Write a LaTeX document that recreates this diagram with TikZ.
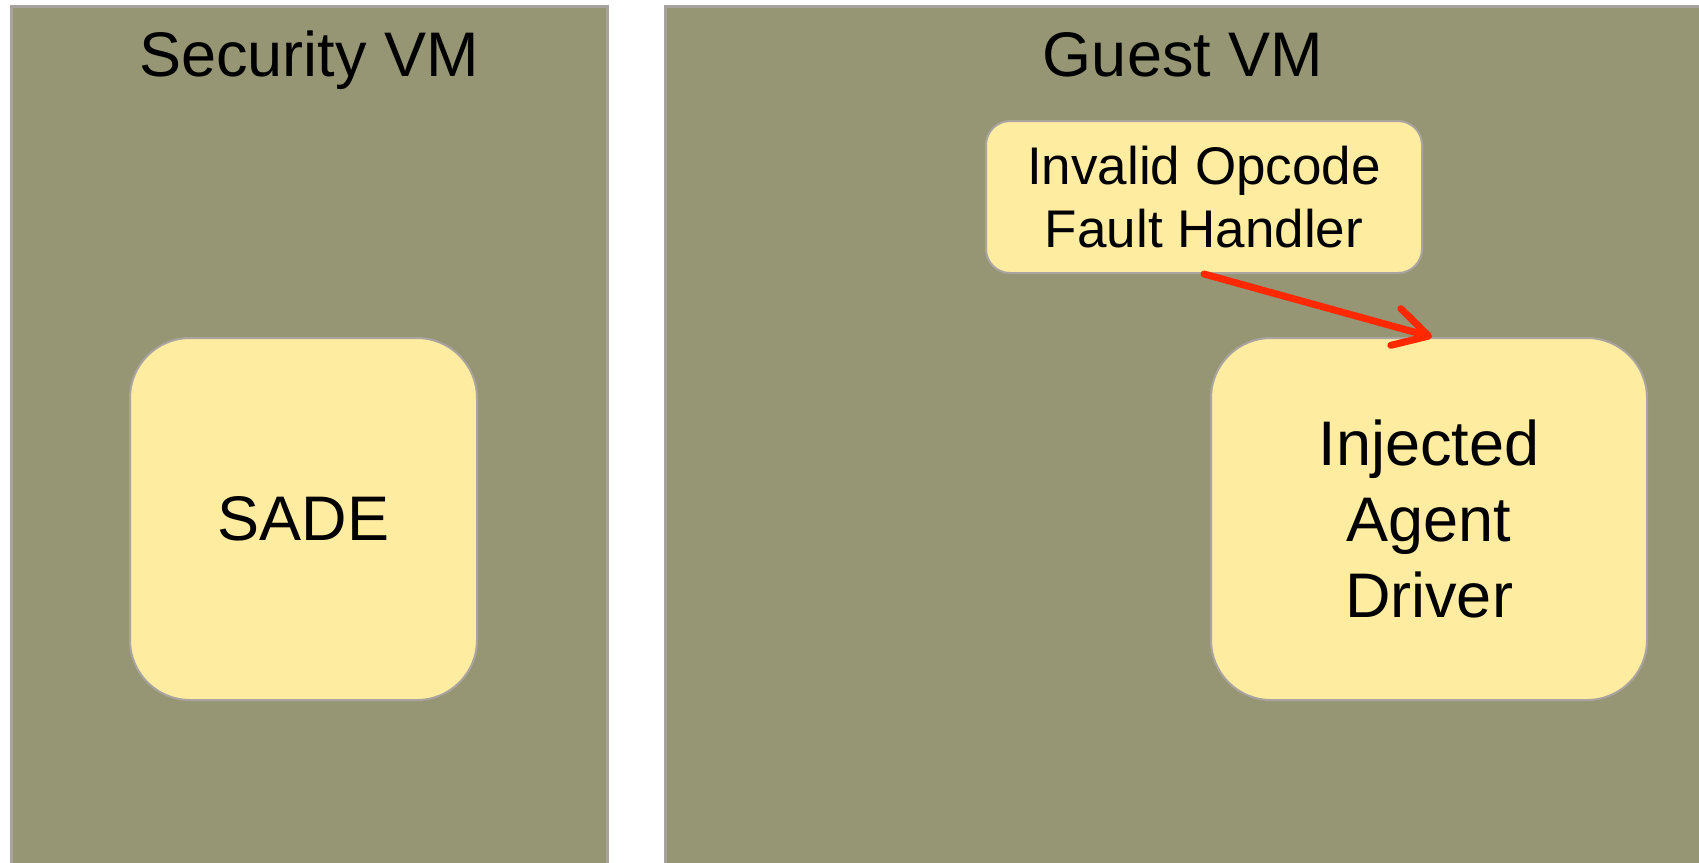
\documentclass[tikz,border=0pt]{standalone}
\usepackage{fontspec}
\setmainfont{Liberation Sans}
\usetikzlibrary{arrows.meta}
\definecolor{panelfill}{RGB}{151,150,116}
\definecolor{panelline}{RGB}{168,162,158}
\definecolor{boxfill}{RGB}{254,236,160}
\definecolor{boxline}{RGB}{170,164,160}
\definecolor{arrowred}{RGB}{255,40,0}
\tikzset{
  panel/.style={fill=panelfill, draw=panelline, line width=3pt},
  paneltitle/.style={font=\fontsize{63}{76}\selectfont, anchor=base, inner sep=0pt},
  bigbox/.style={fill=boxfill, draw=boxline, line width=2pt, rounded corners=60pt,
    minimum width=436pt, minimum height=362pt, font=\fontsize{63}{76}\selectfont,
    align=center, inner sep=0pt},
  smallbox/.style={fill=boxfill, draw=boxline, line width=2pt, rounded corners=24pt,
    minimum width=436pt, minimum height=152pt, font=\fontsize{53}{63}\selectfont,
    align=center, inner sep=0pt},
  redarrow/.style={draw=arrowred, line width=7pt, line cap=round,
    -{Straight Barb[length=34pt, width=38pt, line cap=round, line join=round]}}
}
\begin{document}
\begin{tikzpicture}[x=1pt,y=-1pt]
\useasboundingbox (0,0) rectangle (1699,862);
\fill[white] (0,0) rectangle (1699,862);
\begin{scope}
\clip (0,0) rectangle (1699,862);
\draw[panel] (11,6.5) rectangle (607.5,880);
\draw[panel] (665,6.5) rectangle (1720,880);
\end{scope}
\node[paneltitle] (sectitle) at (309,76) {Security VM};
\node[paneltitle] (guesttitle) at (1183,76) {Guest VM};
\node[bigbox, minimum width=347pt] (sade) at (303.5,519) {SADE};
\node[bigbox] (agent) at (1429,519) {Injected\\Agent\\Driver};
\node[smallbox] (fault) at (1204,197) {Invalid Opcode\\Fault Handler};
\draw[redarrow] (fault.south) -- ([xshift=3pt]agent.north);
\end{tikzpicture}
\end{document}
